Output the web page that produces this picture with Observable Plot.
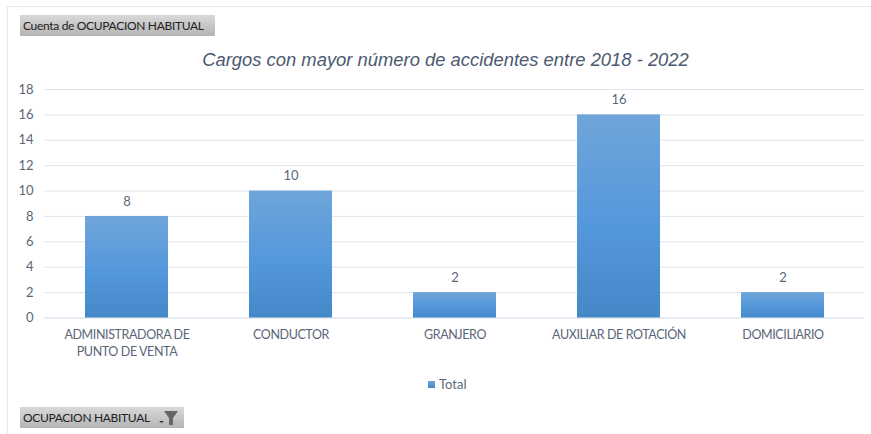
<!DOCTYPE html>
<html>
<head>
<meta charset="utf-8">
<script src="https://cdn.jsdelivr.net/npm/d3@7"></script>
<script src="https://cdn.jsdelivr.net/npm/@observablehq/plot@0.6"></script>
<style>
html,body{margin:0;padding:0;background:#fff;}
#wrap{position:relative;width:871px;height:434px;overflow:hidden;font-family:Lato,sans-serif;}
#wrap svg.plot{position:absolute;left:0;top:0;}
#wrap g[aria-label="x-axis tick label"]{letter-spacing:-0.4px;}
.frame-top{position:absolute;left:7px;top:6px;width:864px;height:1px;background:#e3e8f0;}
.frame-left{position:absolute;left:7px;top:6px;width:1px;height:428px;background:#e3e8f0;}
.pill{position:absolute;left:20px;height:21px;line-height:21px;font-size:12px;letter-spacing:-0.32px;color:#222;background:linear-gradient(#d9d9d9,#b4b4b4);padding-left:3px;box-sizing:border-box;white-space:nowrap;}
#title{position:absolute;left:0;width:871px;top:49px;padding-left:20px;box-sizing:border-box;text-align:center;font:italic 18.4px "Liberation Sans",Arial,sans-serif;color:#4b5a70;white-space:nowrap;}
#legend{position:absolute;left:428px;top:376px;font-size:13px;color:#5a6678;line-height:16px;}
#legend i{display:inline-block;width:7px;height:7px;background:linear-gradient(#6fa5da,#4488c8);margin-right:4px;vertical-align:1px;}
</style>
</head>
<body>
<div id="wrap">
  <div class="frame-top"></div>
  <div class="frame-left"></div>
  <div class="pill" style="top:15px;width:195px;">Cuenta de OCUPACION HABITUAL</div>
  <div id="title">Cargos con mayor número de accidentes entre 2018 - 2022</div>
  <div id="legend"><i></i>Total</div>
  <div class="pill" style="top:407px;width:164px;">OCUPACION HABITUAL
    <svg width="22" height="16" viewBox="0 0 22 16" style="position:absolute;left:138px;top:3px;">
      <path d="M1 11h5l-2.500 2z" fill="#333"/>
      <path d="M6 1h14l-5 7v7h-4V8z" fill="#666"/>
    </svg>
  </div>
</div>
<script>
const categories = ["ADMINISTRADORA DE\nPUNTO DE VENTA", "CONDUCTOR", "GRANJERO", "AUXILIAR DE ROTACIÓN", "DOMICILIARIO"];
const values = [8, 10, 2, 16, 2];
const yTicks = [0, 2, 4, 6, 8, 10, 12, 14, 16, 18];
const data = categories.map((category, i) => ({category, value: values[i]}));

const gradient = () => {
  const svgNS = "http://www.w3.org/2000/svg";
  const defs = document.createElementNS(svgNS, "defs");
  const g = document.createElementNS(svgNS, "linearGradient");
  g.setAttribute("id", "barFill");
  g.setAttribute("x1", "0"); g.setAttribute("y1", "0");
  g.setAttribute("x2", "0"); g.setAttribute("y2", "1");
  [["0%", "#6fa5da"], ["55%", "#5498dc"], ["100%", "#4488c8"]].forEach(([o, c]) => {
    const s = document.createElementNS(svgNS, "stop");
    s.setAttribute("offset", o); s.setAttribute("stop-color", c);
    g.appendChild(s);
  });
  defs.appendChild(g);
  return defs;
};

const chart = Plot.plot({
  width: 871,
  height: 434,
  marginTop: 89,
  marginBottom: 116.5,
  marginLeft: 44,
  marginRight: 7,
  style: {background: "transparent", fontFamily: "Lato, sans-serif", fontSize: "12.5px", color: "#5a6678"},
  x: {domain: categories, label: null, paddingInner: 0.495, paddingOuter: 0.2475, align: 0.5},
  y: {domain: [0, 18], ticks: yTicks, label: null},
  marks: [
    gradient,
    Plot.gridY(yTicks, {stroke: "#dfe5ee", strokeOpacity: 1, strokeWidth: 1}),
    Plot.ruleY([0], {stroke: "#dfe5ee", strokeWidth: 1}),
    Plot.barY(data, {x: "category", y: "value", fill: "url(#barFill)"}),
    Plot.text(data, {x: "category", y: "value", text: d => String(d.value), dy: -15, fill: "#5a6678", fontSize: 13}),
    Plot.axisY({ticks: yTicks, tickSize: 0, tickPadding: 11, label: null, fill: "#5a6678", fontSize: 13}),
    Plot.axisX({tickSize: 0, tickPadding: 9, label: null, fill: "#5a6678", fontSize: 12.5, lineHeight: 1.36, textOverflow: null, lineWidth: Infinity})
  ]
});
document.getElementById("wrap").prepend(chart);
</script>
</body>
</html>
